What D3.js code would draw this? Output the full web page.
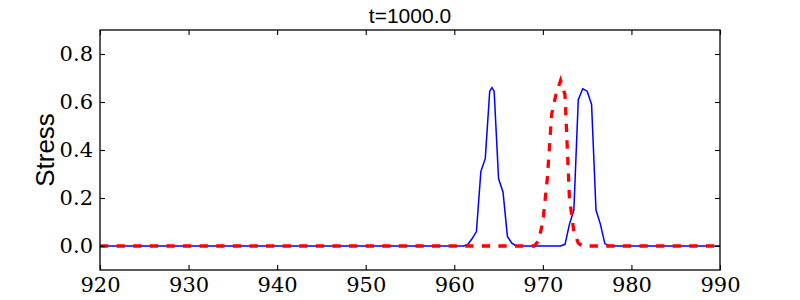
<!DOCTYPE html>
<meta charset="utf-8">
<style>
body {
  margin: 0;
  background-color: #ffffff;
}
.axis text {
  font-family: "DejaVu Serif", serif;
  font-size: 21px;
  fill: #000;
}
.axis line {
  stroke: #000;
  stroke-width: 1.1px;
}
.axis path {
  display: none;
}
.frame {
  fill: none;
  stroke: #000;
  stroke-width: 1.3px;
}
.blue-line {
  fill: none;
  stroke: #0000ff;
  stroke-width: 1.5px;
}
.red-line {
  fill: none;
  stroke: #ff0000;
  stroke-width: 3.3px;
  stroke-dasharray: 8.3,8.3;
}
</style>
<body>
<script src="https://d3js.org/d3.v7.min.js"></script>
<script>
// stress profiles at t=1000.0

var blueX = [920, 961, 961.5, 962, 962.5, 963, 963.5, 964, 964.25, 964.5, 965, 965.5, 966, 966.5, 967,
             972, 972.5, 973, 973.5, 974, 974.5, 975, 975.5, 976, 976.5, 977, 977.5, 990];
var blueY = [0, 0, 0.005, 0.03, 0.06, 0.31, 0.365, 0.645, 0.66, 0.645, 0.28, 0.225, 0.04, 0.012, 0,
             0, 0.007, 0.09, 0.15, 0.61, 0.655, 0.645, 0.59, 0.15, 0.09, 0.01, 0, 0];

var redX = [920, 969, 969.5, 970, 970.5, 971, 971.5, 972, 972.5, 973, 973.5, 974, 974.5, 990];
var redY = [0, 0, 0.02, 0.1, 0.28, 0.55, 0.635, 0.69, 0.63, 0.2, 0.06, 0.012, 0, 0];

var xTicks = [920, 930, 940, 950, 960, 970, 980, 990];
var yTicks = [0.0, 0.2, 0.4, 0.6, 0.8];

var svg = d3.select("body")
    .append("svg")
    .attr("width", 800)
    .attr("height", 300),
  margin = {top: 30, right: 80, bottom: 30, left: 100},
  width = 800 - margin.left - margin.right,
  height = 300 - margin.top - margin.bottom;

var x = d3.scaleLinear().domain([920, 990]).range([0, width]);
var y = d3.scaleLinear().domain([-0.1, 0.9]).range([height, 0]);

var g = svg.append("g")
    .attr("transform", "translate(" + margin.left + "," + margin.top + ")");

var line = d3.line()
    .x(function(d) { return x(d[0]); })
    .y(function(d) { return y(d[1]); });

var blue = blueX.map(function(v, i) { return [v, blueY[i]]; });
var red = redX.map(function(v, i) { return [v, redY[i]]; });

g.append("defs").append("clipPath")
    .attr("id", "clip")
  .append("rect")
    .attr("width", width)
    .attr("height", height);

var plot = g.append("g").attr("clip-path", "url(#clip)");

plot.append("path")
    .datum(blue)
    .attr("class", "blue-line")
    .attr("d", line);

plot.append("path")
    .datum(red)
    .attr("class", "red-line")
    .attr("d", line);

// ticks point inwards on all four sides
g.append("g")
    .attr("class", "axis")
    .attr("transform", "translate(0," + height + ")")
    .call(d3.axisBottom(x).tickValues(xTicks).tickSize(-5).tickPadding(7).tickFormat(d3.format("d")));

g.append("g")
    .attr("class", "axis")
    .call(d3.axisTop(x).tickValues(xTicks).tickSize(-5).tickFormat(""));

g.append("g")
    .attr("class", "axis")
    .call(d3.axisLeft(y).tickValues(yTicks).tickSize(-5).tickPadding(7).tickFormat(d3.format(".1f")));

g.append("g")
    .attr("class", "axis")
    .attr("transform", "translate(" + width + ",0)")
    .call(d3.axisRight(y).tickValues(yTicks).tickSize(-5).tickFormat(""));

g.append("rect")
    .attr("class", "frame")
    .attr("width", width)
    .attr("height", height);

svg.append("text")
    .attr("transform", "translate(54,150) rotate(-90)")
    .attr("text-anchor", "middle")
    .style("font-family", "'Liberation Sans', Arial, sans-serif")
    .style("font-size", "26px")
    .text("Stress");

svg.append("text")
    .attr("x", margin.left + width / 2)
    .attr("y", 23)
    .attr("text-anchor", "middle")
    .style("font-family", "'Liberation Sans', Arial, sans-serif")
    .style("font-size", "21px")
    .text("t=1000.0");
</script>
</body>
